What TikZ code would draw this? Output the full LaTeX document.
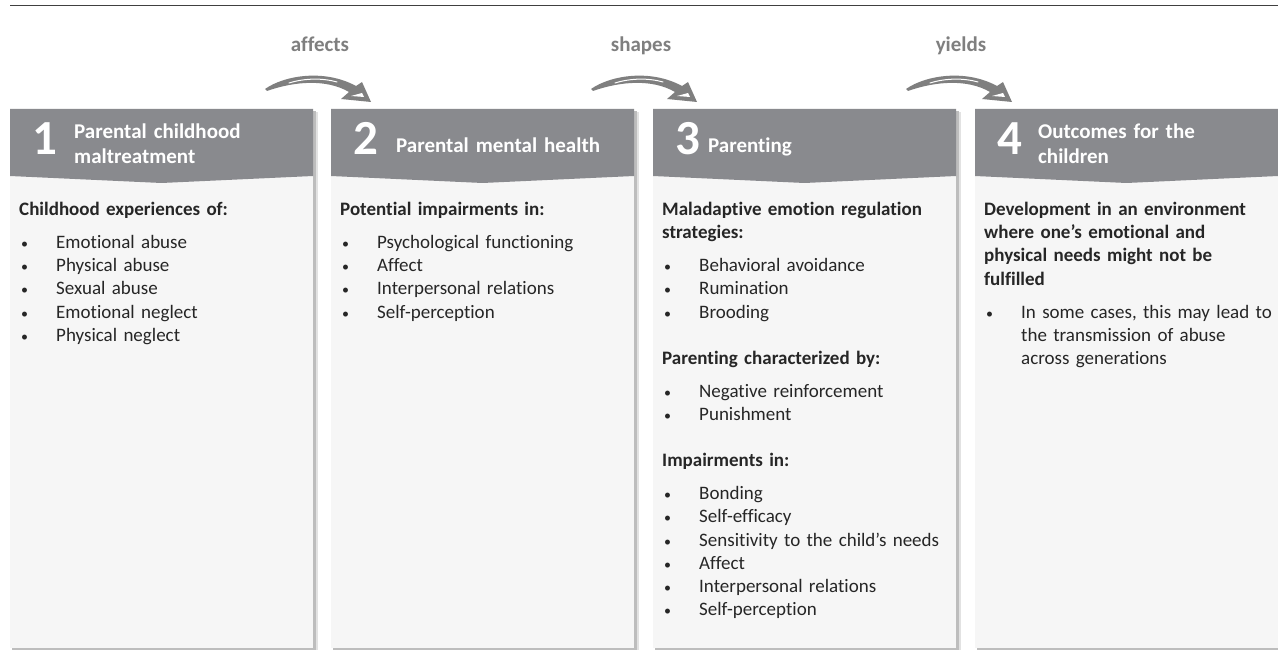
\documentclass[tikz,border=0pt]{standalone}
\usepackage{fontspec}
\setmainfont{Carlito}[Ligatures={NoCommon,NoRequired,NoContextual},Contextuals={NoAlternate},RawFeature={-liga},RawFeature={-clig},RawFeature={-calt},RawFeature={-rlig}]
\definecolor{hdr}{HTML}{898A8E}
\definecolor{bodyc}{HTML}{F6F6F6}
\definecolor{txt}{HTML}{262626}
\definecolor{lbl}{HTML}{7F7F7F}
\definecolor{shadA}{HTML}{BDBDBD}
\definecolor{shadB}{HTML}{E2E2E2}
\newcommand\bulletmark{\makebox[37pt][l]{\hspace{2pt}{\fontsize{14}{14}\selectfont\textbullet}}}
\newcommand\bitem[1]{\par\noindent\bulletmark#1}
\newcommand\bitemw[1]{\par\noindent\bulletmark\parbox[t]{262pt}{\raggedright #1}}
\newcommand\bgap{\par\vspace{9.7pt}}
\newcommand\sgap{\par\vspace{22.7pt}}
\tikzset{
  bodytext/.style={anchor=north west, inner sep=0pt, text width=300pt, align=left,
    font=\fontsize{19}{23.3}\selectfont, text=txt},
  htext/.style={anchor=north west, inner sep=0pt, text width=240pt, align=left,
    font=\fontsize{21}{25}\selectfont\bfseries, text=white},
  numtext/.style={anchor=base west, inner sep=0pt, font=\fontsize{49}{49}\selectfont\bfseries, text=white},
  lbltext/.style={anchor=base, inner sep=0pt, font=\fontsize{21}{25}\selectfont\bfseries, text=lbl},
  brush/.pic={
    \fill[lbl] (0,0) .. controls (20,-14) and (60,-20) .. (91,-3) -- (97,-7) -- (106,13) -- (76,10) -- (84,3)
       .. controls (62,-10) and (30,-8) .. (2,2) -- cycle;
    \draw[white, line width=1pt, line cap=round] (24,-6) .. controls (40,-11) and (58,-11) .. (72,-7);
    \fill[white] (86,7) -- (97,4) -- (99,8) -- cycle;
  }
}
\begin{document}
\begin{tikzpicture}[x=1pt,y=-1pt]
\useasboundingbox (0,0) rectangle (1278,650);
\fill[white] (0,0) rectangle (1278,650);
% top rule
\coordinate (ruleL) at (10,6);
\coordinate (ruleR) at (1278,6);
\draw[line width=1pt, black!75] (ruleL) -- (ruleR);

% panels
\foreach \x in {10,331,653,975}{
  \fill[shadB] (\x+3,112) rectangle (\x+308,651);
  \fill[shadA] (\x+2,111) rectangle (\x+305.5,650);
  \fill[bodyc] (\x,176) rectangle (\x+303,648);
  \fill[hdr] (\x,109) -- (\x+303,109) -- (\x+303,176) -- (\x+151.5,183) -- (\x,176) -- cycle;
}

% panel 1
\node[numtext] (n1) at (32,155) {1};
\node[htext] (h1) at (74,120.5) {\strut Parental childhood\\maltreatment};
\node[bodytext] (b1) at (19,198.7) {\parindent=0pt\strut\textbf{Childhood experiences of:}\bgap
  \bitem{Emotional abuse}\bitem{Physical abuse}\bitem{Sexual abuse}\bitem{Emotional neglect}\bitem{Physical neglect}};

% panel 2
\node[numtext] (n2) at (353,155) {2};
\node[htext] (h2) at (396,134.5) {\strut Parental mental health};
\node[bodytext] (b2) at (340,198.7) {\parindent=0pt\strut\textbf{Potential impairments in:}\bgap
  \bitem{Psychological functioning}\bitem{Affect}\bitem{Interpersonal relations}\bitem{Self-perception}};

% panel 3
\node[numtext] (n3) at (675,155) {3};
\node[htext] (h3) at (708,134.5) {\strut Parenting};
\node[bodytext] (b3) at (662,198.7) {\parindent=0pt\strut\textbf{Maladaptive emotion regulation}\\\textbf{strategies:}\bgap
  \bitem{Behavioral avoidance}\bitem{Rumination}\bitem{Brooding}\sgap
  \noindent\textbf{Parenting characterized by:}\bgap
  \bitem{Negative reinforcement}\bitem{Punishment}\sgap
  \noindent\textbf{Impairments in:}\bgap
  \bitem{Bonding}\bitem{Self-efficacy}\bitem{Sensitivity to the child’s needs}\bitem{Affect}\bitem{Interpersonal relations}\bitem{Self-perception}};

% panel 4
\node[numtext] (n4) at (997,155) {4};
\node[htext] (h4) at (1038,120.5) {\strut Outcomes for the\\children};
\node[bodytext] (b4) at (984,198.7) {\parindent=0pt\strut\textbf{Development in an environment}\\\textbf{where one’s emotional and}\\\textbf{physical needs might not be}\\\textbf{fulfilled}\bgap
  \bitemw{In some cases, this may lead to\\the transmission of abuse\\across generations}};

% arrows and labels
\pic at (265,89) {brush};
\pic at (591,89) {brush};
\pic at (906,89) {brush};
\node[lbltext] (l1) at (320,52) {affects};
\node[lbltext] (l2) at (641,52) {shapes};
\node[lbltext] (l3) at (961,52) {yields};
\end{tikzpicture}
\end{document}
